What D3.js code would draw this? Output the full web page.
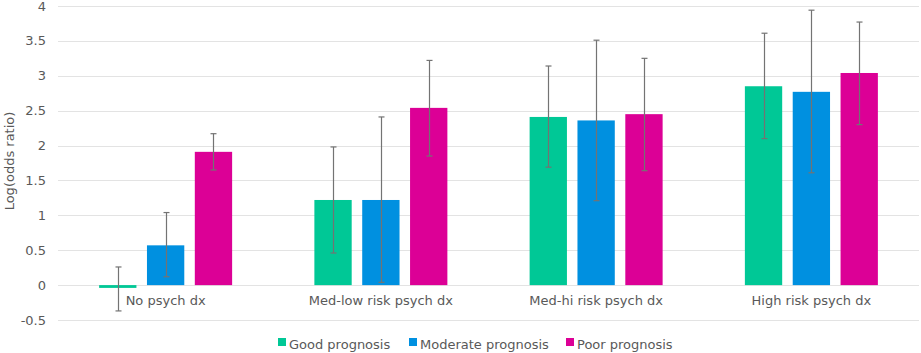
<!DOCTYPE html>
<html>
<head>
<meta charset="UTF-8">
<script src="https://d3js.org/d3.v7.min.js"></script>
<style>
  body { margin: 0; background: #fff; }
  text { font-family: Verdana, "DejaVu Sans", sans-serif; fill: #595959; }
</style>
</head>
<body>
<svg id="chart" width="921" height="353"></svg>
<script>
const categories = ["No psych dx", "Med-low risk psych dx", "Med-hi risk psych dx", "High risk psych dx"];
const seriesNames = ["Good prognosis", "Moderate prognosis", "Poor prognosis"];
const seriesColors = ["#00c896", "#0090e0", "#dc0096"];
const goodVals = [-0.04, 1.22, 2.41, 2.85];
const modVals = [0.57, 1.22, 2.36, 2.77];
const poorVals = [1.91, 2.54, 2.45, 3.04];
const goodLow = [-0.37, 0.46, 1.69, 2.10];
const goodHigh = [0.26, 1.98, 3.14, 3.61];
const modLow = [0.12, 0.04, 1.21, 1.61];
const modHigh = [1.04, 2.41, 3.51, 3.94];
const poorLow = [1.65, 1.85, 1.64, 2.30];
const poorHigh = [2.17, 3.22, 3.25, 3.77];
const yTicks = [-0.5, 0, 0.5, 1, 1.5, 2, 2.5, 3, 3.5, 4];

const vals = [goodVals, modVals, poorVals];
const lows = [goodLow, modLow, poorLow];
const highs = [goodHigh, modHigh, poorHigh];

const data = [];
categories.forEach((c, i) => {
  seriesNames.forEach((s, j) => {
    data.push({ cat: c, series: s, idx: j, v: vals[j][i], lo: lows[j][i], hi: highs[j][i] });
  });
});

const svg = d3.select("#chart");
const margin = { left: 58, right: 919, top: 6, bottom: 320 };

const y = d3.scaleLinear().domain([-0.5, 4]).range([margin.bottom, margin.top]);
const x0 = d3.scaleBand().domain(categories).range([margin.left, margin.right]);
const x1 = d3.scaleBand().domain(seriesNames)
  .range([0, 133]).paddingInner(0.22);
const offset = (x0.bandwidth() - 133) / 2;

// gridlines
svg.append("g").selectAll("line").data(yTicks).enter().append("line")
  .attr("x1", margin.left).attr("x2", margin.right)
  .attr("y1", d => Math.round(y(d)) + 0.5).attr("y2", d => Math.round(y(d)) + 0.5)
  .attr("stroke", "#e3e3e3").attr("stroke-width", 1);

// y tick labels
svg.append("g").selectAll("text").data(yTicks).enter().append("text")
  .attr("x", 46).attr("y", d => y(d)).attr("dy", "0.35em")
  .attr("text-anchor", "end").style("font-size", "13px")
  .text(d => d);

svg.append("text")
  .attr("transform", `translate(14,${(margin.top + margin.bottom) / 2 - 2}) rotate(-90)`)
  .attr("text-anchor", "middle").style("font-size", "13px")
  .text("Log(odds ratio)");

// bars
svg.append("g").selectAll("rect").data(data).enter().append("rect")
  .attr("x", d => x0(d.cat) + offset + x1(d.series))
  .attr("width", x1.bandwidth())
  .attr("y", d => Math.min(y(d.v), y(0)))
  .attr("height", d => Math.max(Math.abs(y(d.v) - y(0)), 1))
  .attr("fill", d => seriesColors[d.idx]);

// error bars
const err = svg.append("g").attr("stroke", "#737373").attr("stroke-width", 1.2);
data.forEach(d => {
  const cx = Math.round(x0(d.cat) + offset + x1(d.series) + x1.bandwidth() / 2) + 0.5;
  err.append("line").attr("x1", cx).attr("x2", cx).attr("y1", y(d.hi)).attr("y2", y(d.lo));
  err.append("line").attr("x1", cx - 3).attr("x2", cx + 3).attr("y1", y(d.hi)).attr("y2", y(d.hi));
  err.append("line").attr("x1", cx - 3).attr("x2", cx + 3).attr("y1", y(d.lo)).attr("y2", y(d.lo));
});

// category labels
svg.append("g").selectAll("text").data(categories).enter().append("text")
  .attr("x", d => x0(d) + x0.bandwidth() / 2)
  .attr("y", 305).attr("text-anchor", "middle").style("font-size", "13px")
  .text(d => d);

// legend
const legendX = [278, 409, 566];
const leg = svg.append("g").selectAll("g").data(seriesNames).enter().append("g")
  .attr("transform", (d, i) => `translate(${legendX[i]},344)`);
leg.append("rect").attr("x", 0).attr("y", -6).attr("width", 8).attr("height", 8)
  .attr("fill", (d, i) => seriesColors[i]);
leg.append("text").attr("x", 11).attr("y", 0).attr("dy", "0.35em")
  .style("font-size", "13px").text(d => d);
</script>
</body>
</html>
